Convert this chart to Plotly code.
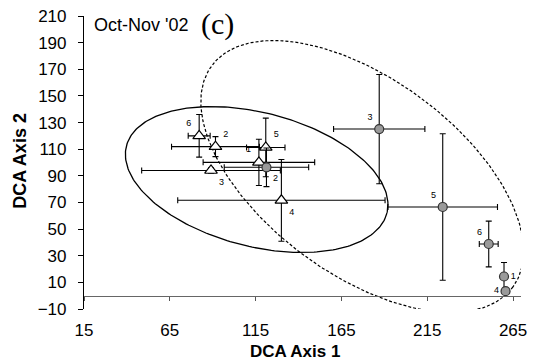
import numpy as np
import plotly.graph_objects as go

# ---- data ----
tri_labels = ["6", "2", "5", "1", "3", "4"]
tri_x = [82.1, 91.6, 120.9, 116.9, 89.0, 130.0]
tri_y = [120.0, 111.9, 111.3, 100.1, 94.0, 71.6]
tri_ex = [6.4, 25.6, 11.2, 32.5, 40.4, 60.4]
tri_ey = [16.0, 7.5, 22.0, 17.4, 2.0, 30.7]
tri_textpos = ["top left", "top right", "top right", "top left", "bottom right", "bottom right"]

cir_labels = ["3", "5", "6", "1", "4", "2"]
cir_x = [187.0, 224.0, 250.8, 259.7, 260.6, 121.3]
cir_y = [125.1, 66.6, 38.8, 14.4, 3.4, 96.4]
cir_ex = [26.6, 31.9, 5.5, 0.0, 0.0, 24.6]
cir_ey = [41.0, 55.0, 17.2, 10.5, 0.0, 14.5]
cir_textpos = ["top left", "top left", "top left", "middle right", "middle left", "bottom right"]

x_ticks = [15, 65, 115, 165, 215, 265]
y_ticks = list(range(-10, 211, 20))
x_range = [15, 269.6]
y_range = [-10, 210]

# ellipse parameters (center, two conjugate semi-axis vectors, data units)
solid_c = (115.6, 87.2)
solid_u = (75.9, -25.1)
solid_v = (-9.5, -48.7)
dot_c = (177.1, 89.5)
dot_u = (87.9, -82.8)
dot_v = (-33.4, -59.7)

FONT = "Liberation Sans, Arial, sans-serif"


def ellipse(c, u, v, n=260):
    t = np.linspace(0, 2 * np.pi, n)
    return (c[0] + u[0] * np.cos(t) + v[0] * np.sin(t),
            c[1] + u[1] * np.cos(t) + v[1] * np.sin(t))


fig = go.Figure()

ex, ey = ellipse(solid_c, solid_u, solid_v)
fig.add_trace(go.Scatter(x=ex, y=ey, mode="lines", line=dict(color="black", width=1.3),
                         hoverinfo="skip", showlegend=False))
ex, ey = ellipse(dot_c, dot_u, dot_v)
fig.add_trace(go.Scatter(x=ex, y=ey, mode="lines",
                         line=dict(color="black", width=1.2, dash="3px,2px"),
                         hoverinfo="skip", showlegend=False))

err_style = dict(type="data", color="black", thickness=1.1, width=3)

fig.add_trace(go.Scatter(
    x=tri_x, y=tri_y, mode="markers+text", text=tri_labels, textposition=tri_textpos,
    textfont=dict(family=FONT, size=9, color="black"),
    marker=dict(symbol="triangle-up", size=11, color="white", line=dict(color="black", width=1.2)),
    error_x=dict(array=tri_ex, **err_style), error_y=dict(array=tri_ey, **err_style),
    cliponaxis=False, showlegend=False))

fig.add_trace(go.Scatter(
    x=cir_x, y=cir_y, mode="markers+text", text=cir_labels, textposition=cir_textpos,
    textfont=dict(family=FONT, size=9, color="black"),
    marker=dict(symbol="circle", size=9, color="#9a9a9a", line=dict(color="#333", width=1.2)),
    error_x=dict(array=cir_ex, **err_style), error_y=dict(array=cir_ey, **err_style),
    cliponaxis=False, showlegend=False))

# invisible trace on the crossing x axis
fig.add_trace(go.Scatter(x=[x_ticks[0]], y=[0], xaxis="x2", mode="markers",
                         marker=dict(opacity=0), hoverinfo="skip", showlegend=False))

fig.update_layout(
    width=534, height=364,
    margin=dict(l=84, r=7, t=14, b=55),
    paper_bgcolor="white", plot_bgcolor="white",
    font=dict(family=FONT, color="black"),
    xaxis=dict(range=x_range, tickvals=x_ticks, showgrid=False, zeroline=False,
               showline=False, ticks="", ticklabelstandoff=9,
               tickfont=dict(size=17, family=FONT)),
    xaxis2=dict(range=x_range, overlaying="x", matches="x", anchor="free",
                position=(0 - y_range[0]) / (y_range[1] - y_range[0]), tickvals=x_ticks,
                showticklabels=False, showgrid=False, zeroline=False, showline=True,
                linecolor="#666", linewidth=1.2, ticks="outside", ticklen=4,
                tickcolor="#555", side="bottom"),
    yaxis=dict(range=y_range, tickvals=y_ticks, showgrid=False, zeroline=False,
               showline=True, linecolor="black", linewidth=1.2, ticks="outside", ticklen=5,
               tickcolor="black", ticklabelstandoff=8, tickfont=dict(size=17, family=FONT)),
    annotations=[
        dict(text="<b>DCA Axis 1</b>", xref="paper", yref="paper", x=0.483, y=-0.146,
             xanchor="center", yanchor="middle", showarrow=False,
             font=dict(size=17, family=FONT)),
        dict(text="<b>DCA Axis 2</b>", xref="paper", yref="paper", x=-0.147, y=0.505,
             xanchor="center", yanchor="middle", showarrow=False, textangle=-90,
             font=dict(size=18, family=FONT)),
        dict(text="Oct-Nov '02", xref="paper", yref="paper", x=0.018, y=0.969,
             xanchor="left", yanchor="middle", showarrow=False,
             font=dict(size=18, family=FONT)),
        dict(text="(c)", xref="paper", yref="paper", x=0.305, y=0.973,
             xanchor="center", yanchor="middle", showarrow=False,
             font=dict(size=30, family="Liberation Serif, Times New Roman, serif")),
    ],
)

fig.write_html("out.html")
